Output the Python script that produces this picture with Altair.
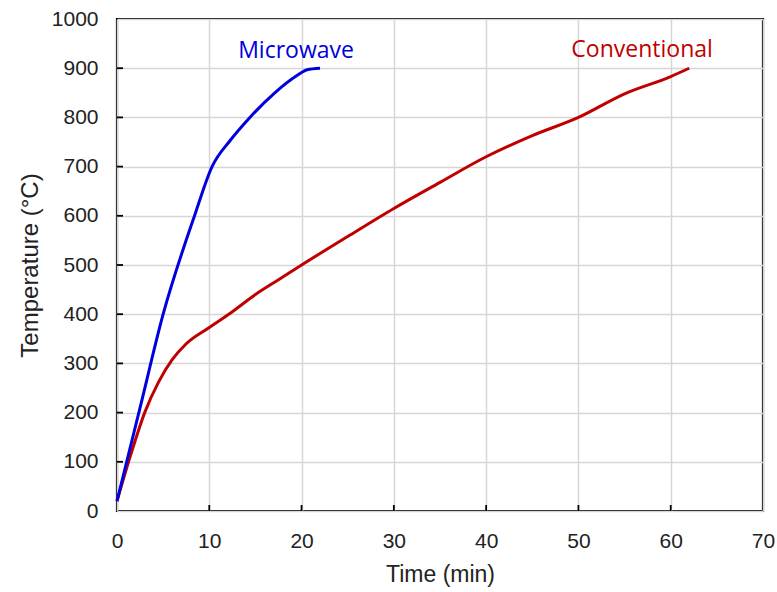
import altair as alt
import pandas as pd

# Microwave heating curve
mw_time = [0, 2.5, 5.0, 8.4, 10.3, 12.3, 14.4, 17.1, 19.5, 20.6, 22.0]
mw_temp = [20, 210, 400, 600, 700, 754, 800, 850, 885, 897, 900]

# Conventional heating curve
cv_time = [0, 1.5, 3.0, 4.5, 6.0, 7.5, 10, 12.5, 15, 17.5, 20, 25, 30, 35, 40, 45, 50, 55, 60, 62]
cv_temp = [20, 115, 200, 262, 308, 340, 373, 405, 440, 470, 500, 558, 615, 668, 720, 763, 800, 848, 883, 900]

x_ticks = [0, 10, 20, 30, 40, 50, 60, 70]
y_ticks = [0, 100, 200, 300, 400, 500, 600, 700, 800, 900, 1000]
x_inner_ticks = [10, 20, 30, 40, 50, 60]
y_inner_ticks = [100, 200, 300, 400, 500, 600, 700, 800, 900]

label_text = ["Microwave", "Conventional"]
label_time = [19.4, 56.9]
label_temp = [921, 923]
series_colors = ["#0000DD", "#C00000"]

W, H = 646, 492
FONT = "Liberation Sans"

xscale = alt.Scale(domain=[0, 70], nice=False, zero=False)
yscale = alt.Scale(domain=[0, 1000], nice=False)

x_axis = alt.Axis(values=x_ticks, format="d", title="Time (min)", grid=True, gridColor="#D6D6D6",
                  gridWidth=1.5, ticks=False, domain=False, labelFont=FONT,
                  labelFontSize=21, labelColor="#222222", labelPadding=19,
                  titleFont=FONT, titleFontSize=23, titleFontWeight="normal",
                  titleColor="#222222", titlePadding=12, labelFlush=False)
y_axis = alt.Axis(values=y_ticks, format="d", title="Temperature (°C)", grid=True, gridColor="#D6D6D6",
                  gridWidth=1.5, ticks=False, domain=False, labelFont=FONT,
                  labelFontSize=21, labelColor="#222222", labelPadding=19,
                  titleFont=FONT, titleFontSize=24, titleFontWeight="normal",
                  titleColor="#222222", titlePadding=9, labelFlush=False)

X = alt.X("t:Q", scale=xscale, axis=x_axis)
Y = alt.Y("T:Q", scale=yscale, axis=y_axis)

mw_df = pd.DataFrame({"t": mw_time, "T": mw_temp})
cv_df = pd.DataFrame({"t": cv_time, "T": cv_temp})

cv_line = alt.Chart(cv_df).mark_line(color=series_colors[1], strokeWidth=3,
                                     interpolate="monotone").encode(x=X, y=Y)
mw_line = alt.Chart(mw_df).mark_line(color=series_colors[0], strokeWidth=3,
                                     interpolate="monotone").encode(x=X, y=Y)

# inward tick marks (about 6 px long)
tick_len_y = 1000 * 6 / H
tick_len_x = 70 * 6 / W
xt = alt.Chart(pd.DataFrame({"t": x_inner_ticks})).mark_rule(color="black", strokeWidth=1.8).encode(
    x=X,
    y=alt.Y(datum=0, scale=yscale, axis=y_axis),
    y2=alt.Y2(datum=tick_len_y),
)
yt = alt.Chart(pd.DataFrame({"T": y_inner_ticks})).mark_rule(color="black", strokeWidth=1.8).encode(
    y=Y,
    x=alt.X(datum=0, scale=xscale, axis=x_axis),
    x2=alt.X2(datum=tick_len_x),
)

labels = alt.Chart(pd.DataFrame({"t": label_time, "T": label_temp, "txt": label_text,
                                 "c": series_colors})).mark_text(
    font="Open Sans", fontSize=23, baseline="alphabetic", align="center").encode(
    x=X, y=Y,
    text="txt:N",
    color=alt.Color("c:N", scale=None, legend=None),
)

chart = alt.layer(xt, yt, cv_line, mw_line, labels).properties(
    width=W, height=H,
    autosize=alt.AutoSizeParams(type="none"),
    padding={"left": 117, "top": 19, "right": 14, "bottom": 81},
    background="white",
).configure_view(stroke="black", strokeWidth=2.2)

chart.save("out.html", embed_options={"renderer": "svg", "actions": False})
